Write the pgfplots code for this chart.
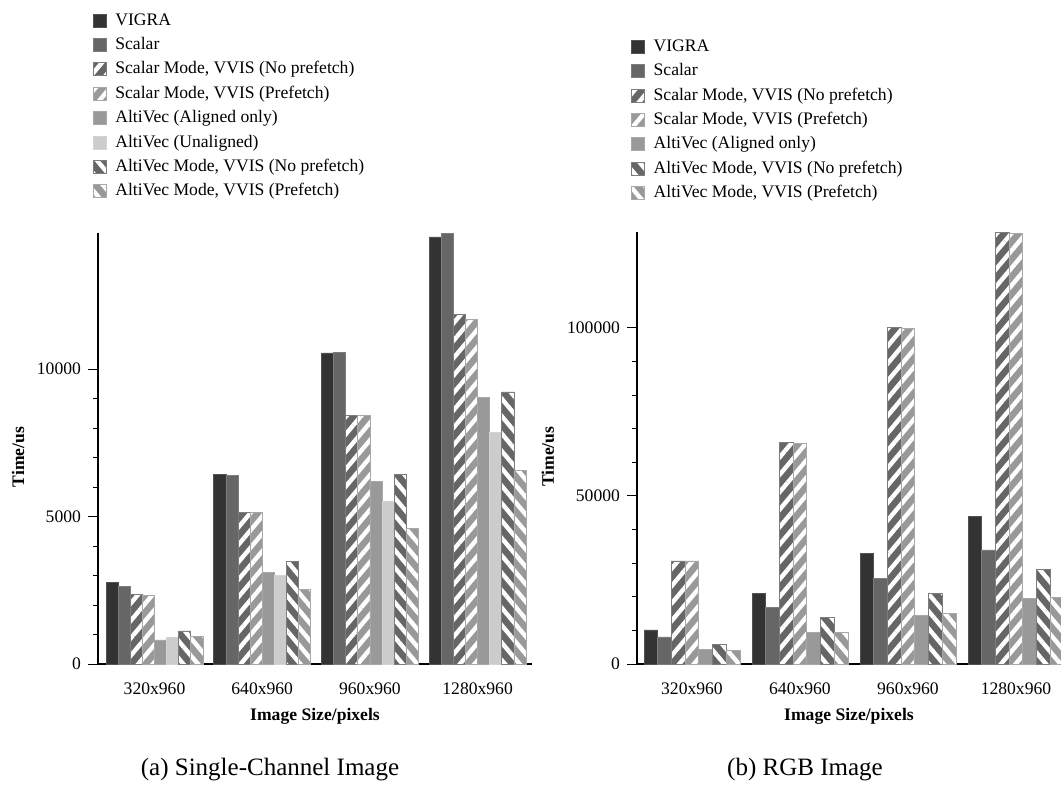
\documentclass[border=0pt]{standalone}
\usepackage{fontspec}
\setmainfont{Liberation Serif}
\usepackage{pgfplots}
\pgfplotsset{compat=1.18}
\usetikzlibrary{patterns.meta}

\definecolor{gA}{HTML}{333333}
\definecolor{gB}{HTML}{666666}
\definecolor{gC}{HTML}{999999}
\definecolor{gD}{HTML}{CCCCCC}

\newcommand\chartfont{\fontsize{8.8}{10.5}\selectfont}
\newcommand\capfont{\fontsize{12.5}{14}\selectfont}

\pgfplotsset{
  solid bar/.style={fill=#1, draw=#1!85!white, line width=0.4pt},
  fwd bar/.style={fill=#1, draw=#1!85!white, line width=0.4pt,
    postaction={pattern={Lines[angle=50,distance=5.6pt,line width=2.2pt]}, pattern color=white}},
  bwd bar/.style={fill=#1, draw=#1!85!white, line width=0.4pt,
    postaction={pattern={Lines[angle=-50,distance=5.6pt,line width=2.2pt]}, pattern color=white}},
  timing chart/.style={
    ybar=0pt,
    scale only axis,
    anchor=south west,
    axis x line=bottom,
    axis y line=left,
    axis line style={-, line width=0.6pt, black},
    ymin=0,
    xtick={0,1,2,3},
    xticklabels={320x960,640x960,960x960,1280x960},
    major x tick style={draw=none},
    minor y tick num=4,
    tick align=outside,
    major tick length=5pt,
    minor tick length=2.3pt,
    every tick/.style={black, line width=0.5pt},
    scaled y ticks=false,
    yticklabel style={/pgf/number format/fixed, /pgf/number format/precision=0,
      /pgf/number format/set thousands separator={}},
    xticklabel shift=1pt,
    /pgf/number format/assume math mode=true,
    tick label style={font=\chartfont},
    label style={font=\chartfont\bfseries},
    xlabel={Image Size/pixels},
    ylabel={Time/us},
    legend image code/.code={\draw[#1] (0pt,-3.25pt) rectangle (6.5pt,3.25pt);},
    legend cell align=left,
    legend style={draw=none, fill=none, inner sep=0pt, font=\chartfont,
      anchor=north west, row sep=1.0pt,
      nodes={text height=6.3pt, text depth=1.7pt, inner sep=1.6pt},
      /tikz/every odd column/.append style={column sep=2.6pt}},
  },
}

% run times in microseconds, one row per image size
\pgfplotstableread{
x vigra scalar smnopf smpf avaligned avunaligned amnopf ampf
0 2780  2645  2345  2340  815  915  1120 945
1 6440  6400  5140  5140  3110 2995 3470 2540
2 10550 10560 8440  8440  6180 5525 6430 4610
3 14485 14620 11865 11685 9040 7840 9230 6575
}\graytimes

\pgfplotstableread{
x vigra scalar smnopf smpf avaligned amnopf ampf
0 10120 8040  30650  30650  4270  5850  4070
1 21030 16870 65800  65700  9520  13890 9520
2 32830 25390 100000 99900  14490 21030 15080
3 43840 33930 128400 128200 19550 28180 19740
}\rgbtimes

\begin{document}
\begin{tikzpicture}
\useasboundingbox (0,0) rectangle (530.5pt,-397pt);

\begin{axis}[timing chart,
  at={(49pt,-332pt)},
  width=217pt, height=215.5pt,
  xmin=-0.525, xmax=3.505,
  ymax=14620,
  ytick={0,5000,10000},
  bar width=6.05pt,
  ylabel style={at={(axis description cs:-0.184,0.48)}, anchor=center},
  legend style={at={(axis description cs:-0.012,1.52)}},
]
\addplot[solid bar=gA] table[x=x,y=vigra] {\graytimes};
\addplot[solid bar=gB] table[x=x,y=scalar] {\graytimes};
\addplot[fwd bar=gB] table[x=x,y=smnopf] {\graytimes};
\addplot[fwd bar=gC] table[x=x,y=smpf] {\graytimes};
\addplot[solid bar=gC] table[x=x,y=avaligned] {\graytimes};
\addplot[solid bar=gD] table[x=x,y=avunaligned] {\graytimes};
\addplot[bwd bar=gB] table[x=x,y=amnopf] {\graytimes};
\addplot[bwd bar=gC] table[x=x,y=ampf] {\graytimes};
\legend{VIGRA, Scalar, {Scalar Mode, VVIS (No prefetch)}, {Scalar Mode, VVIS (Prefetch)},
  AltiVec (Aligned only), AltiVec (Unaligned), {AltiVec Mode, VVIS (No prefetch)}, {AltiVec Mode, VVIS (Prefetch)}}
\end{axis}

\begin{axis}[timing chart,
  at={(318.5pt,-332pt)},
  width=212pt, height=216pt,
  xmin=-0.509, xmax=3.417,
  ymax=128500,
  ytick={0,50000,100000},
  bar width=6.85pt,
  ylabel style={at={(axis description cs:-0.21,0.48)}, anchor=center},
  legend style={at={(axis description cs:-0.014,1.456)}},
]
\addplot[solid bar=gA] table[x=x,y=vigra] {\rgbtimes};
\addplot[solid bar=gB] table[x=x,y=scalar] {\rgbtimes};
\addplot[fwd bar=gB] table[x=x,y=smnopf] {\rgbtimes};
\addplot[fwd bar=gC] table[x=x,y=smpf] {\rgbtimes};
\addplot[solid bar=gC] table[x=x,y=avaligned] {\rgbtimes};
\addplot[bwd bar=gB] table[x=x,y=amnopf] {\rgbtimes};
\addplot[bwd bar=gC] table[x=x,y=ampf] {\rgbtimes};
\legend{VIGRA, Scalar, {Scalar Mode, VVIS (No prefetch)}, {Scalar Mode, VVIS (Prefetch)},
  AltiVec (Aligned only), {AltiVec Mode, VVIS (No prefetch)}, {AltiVec Mode, VVIS (Prefetch)}}
\end{axis}

\node[font=\capfont] at (135pt,-385pt) {(a) Single-Channel Image};
\node[font=\capfont] at (402.5pt,-385pt) {(b) RGB Image};
\end{tikzpicture}
\end{document}
